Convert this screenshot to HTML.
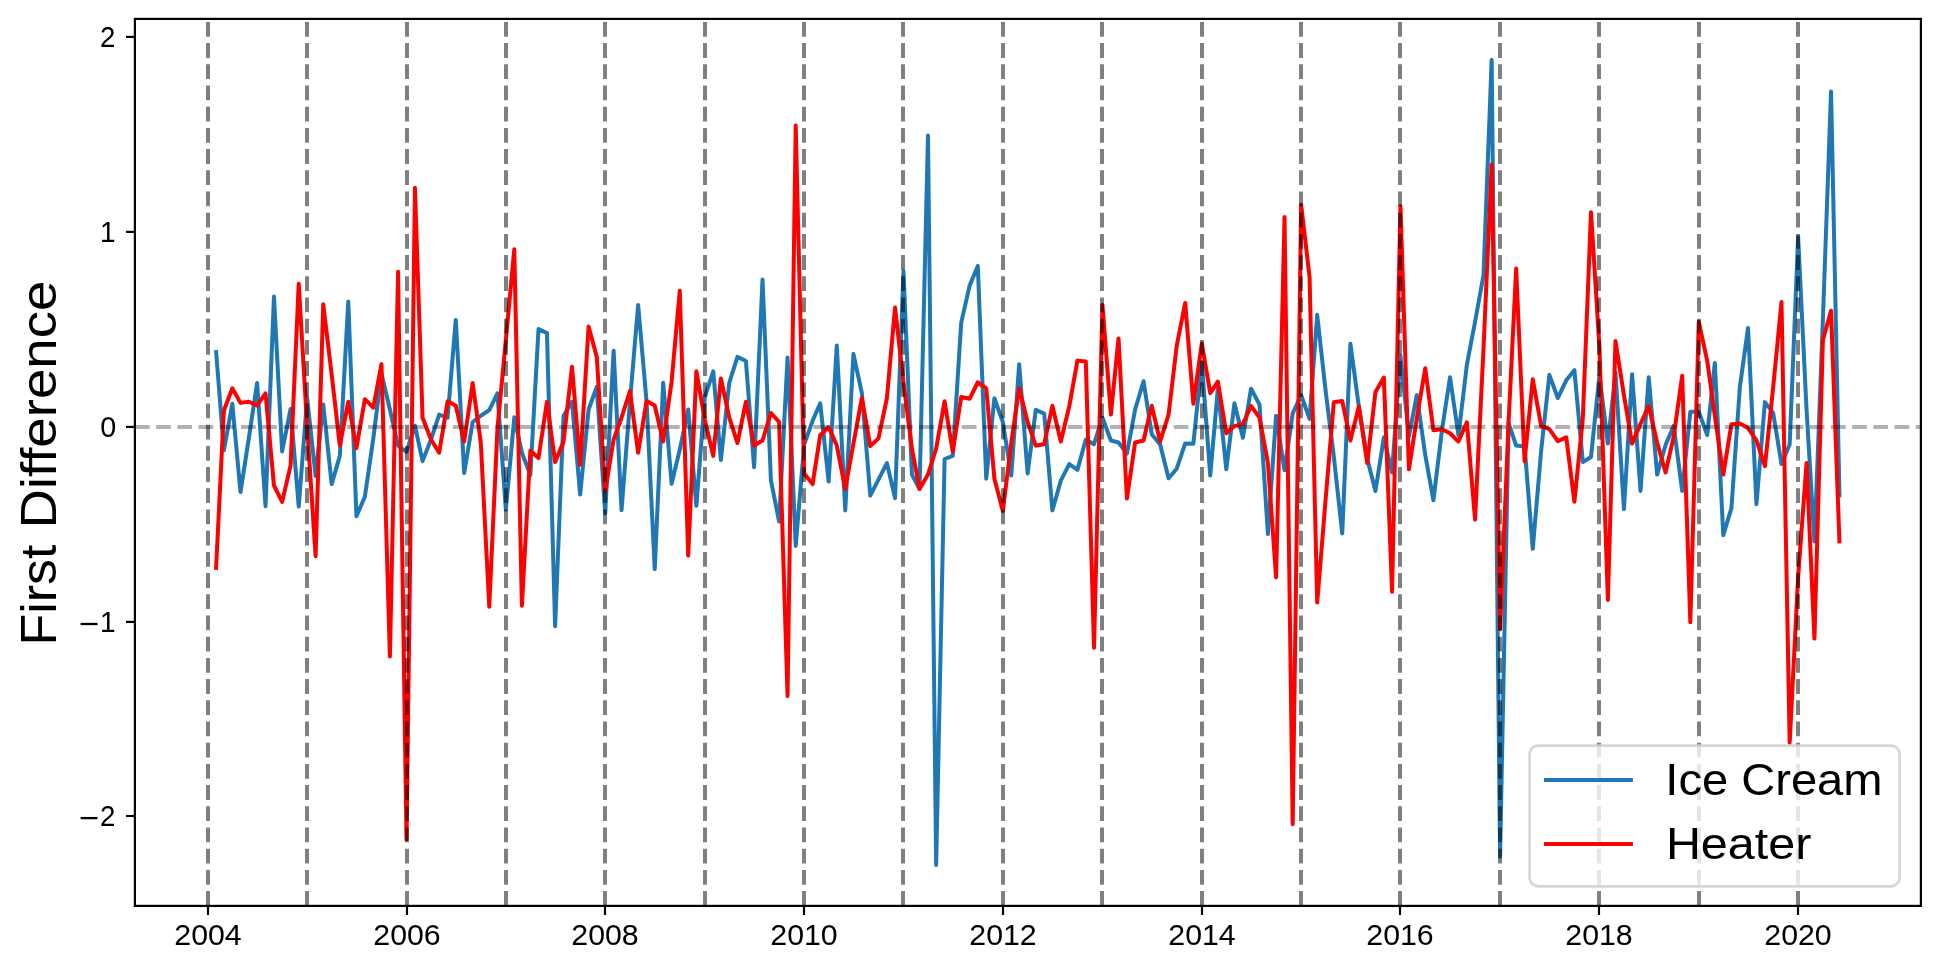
<!DOCTYPE html>
<html><head><meta charset="utf-8"><title>First Difference</title>
<style>html,body{margin:0;padding:0;background:#fff;}body{width:1939px;height:970px;position:relative;overflow:hidden;font-family:"Liberation Sans",sans-serif;}</style>
</head><body>
<svg width="1939" height="970" viewBox="0 0 1939 970" style="display:block;position:absolute;left:0;top:0;will-change:transform">
<rect x="0" y="0" width="1939" height="970" fill="#ffffff"/>
<defs><clipPath id="ax"><rect x="134.90" y="18.90" width="1786.00" height="887.00"/></clipPath></defs>
<g clip-path="url(#ax)">
<path d="M215.99,350.10 L223.89,450.43 L232.32,403.67 L240.49,492.11 L248.92,437.57 L257.09,383.03 L265.53,506.14 L273.96,296.53 L282.13,451.40 L290.57,408.93 L298.73,506.53 L307.17,398.22 L315.61,475.94 L323.23,404.45 L331.66,484.13 L339.83,455.88 L348.27,301.40 L356.43,516.27 L364.87,496.79 L373.31,438.35 L381.47,373.48 L389.91,409.52 L398.07,445.56 L406.51,451.79 L414.95,425.69 L422.57,461.14 L431.01,439.52 L439.17,414.58 L447.61,417.70 L455.77,319.91 L464.21,473.02 L472.65,421.99 L480.81,415.75 L489.25,410.10 L497.42,393.35 L505.85,509.65 L514.29,417.31 L521.91,452.76 L530.35,475.17 L538.51,329.07 L546.95,333.16 L555.12,626.14 L563.55,415.75 L571.99,401.73 L580.16,494.45 L588.59,409.52 L596.76,386.92 L605.20,513.35 L613.63,350.69 L621.53,510.23 L629.96,401.73 L638.13,304.91 L646.57,401.73 L654.73,569.06 L663.17,382.64 L671.60,483.74 L679.77,449.84 L688.21,409.52 L696.37,505.75 L704.81,397.05 L713.25,371.34 L720.87,459.97 L729.30,382.64 L737.47,356.92 L745.91,361.01 L754.07,467.18 L762.51,279.59 L770.95,480.62 L779.11,521.53 L787.55,357.51 L795.71,545.88 L804.15,444.58 L812.59,420.82 L820.21,403.28 L828.65,481.59 L836.81,345.62 L845.25,510.42 L853.41,353.81 L861.85,392.96 L870.29,495.62 L878.45,479.65 L886.89,463.09 L895.06,498.15 L903.49,271.21 L911.93,474.58 L919.55,489.00 L927.99,135.43 L936.15,864.96 L944.59,459.00 L952.76,455.88 L961.19,322.83 L969.63,285.63 L977.80,265.95 L986.23,478.67 L994.40,398.22 L1002.84,421.99 L1011.27,475.56 L1019.17,364.13 L1027.60,473.41 L1035.77,409.91 L1044.21,413.61 L1052.37,510.42 L1060.81,480.62 L1069.25,464.06 L1077.41,469.91 L1085.85,439.52 L1094.01,444.19 L1102.45,417.70 L1110.89,440.49 L1118.51,442.44 L1126.95,453.54 L1135.11,409.52 L1143.55,381.27 L1151.71,434.26 L1160.15,444.58 L1168.59,478.28 L1176.75,468.74 L1185.19,443.41 L1193.35,443.80 L1201.79,361.99 L1210.23,475.56 L1217.85,388.87 L1226.29,469.32 L1234.45,403.28 L1242.89,437.76 L1251.05,388.67 L1259.49,404.45 L1267.93,534.00 L1276.09,415.75 L1284.53,470.30 L1292.70,413.22 L1301.13,395.10 L1309.57,418.87 L1317.19,314.85 L1325.63,391.01 L1333.79,456.27 L1342.23,533.41 L1350.40,343.87 L1358.83,406.40 L1367.27,459.00 L1375.44,490.94 L1383.87,437.37 L1392.04,472.44 L1400.48,355.95 L1408.91,436.40 L1416.81,395.10 L1425.24,454.91 L1433.41,500.29 L1441.85,430.95 L1450.01,377.18 L1458.45,435.23 L1466.89,364.71 L1475.05,321.86 L1483.49,275.11 L1491.65,60.05 L1500.09,856.39 L1508.53,422.96 L1516.15,445.56 L1524.59,446.53 L1532.75,548.80 L1541.19,450.43 L1549.35,374.84 L1557.79,398.02 L1566.23,380.30 L1574.39,370.17 L1582.83,462.11 L1591.00,457.05 L1599.43,375.43 L1607.87,443.61 L1615.49,372.51 L1623.93,509.06 L1632.09,374.26 L1640.53,490.94 L1648.70,377.18 L1657.13,474.58 L1665.57,444.97 L1673.73,425.88 L1682.17,490.94 L1690.34,411.86 L1698.77,411.86 L1707.21,435.04 L1714.83,362.96 L1723.27,535.16 L1731.43,508.09 L1739.87,386.92 L1748.04,328.09 L1756.47,504.19 L1764.91,402.12 L1773.08,412.63 L1781.51,464.06 L1789.68,444.58 L1798.12,236.93 L1806.55,409.52 L1814.45,541.40 L1822.88,319.91 L1831.05,91.41 L1839.49,497.18" fill="none" stroke="#1f77b4" stroke-width="4" stroke-linejoin="round" stroke-linecap="butt"/>
<path d="M215.99,569.84 L223.89,410.49 L232.32,388.28 L240.49,402.89 L248.92,401.73 L257.09,405.43 L265.53,393.35 L273.96,485.49 L282.13,501.85 L290.57,465.62 L298.73,283.87 L307.17,427.05 L315.61,556.20 L323.23,304.13 L331.66,374.45 L339.83,445.56 L348.27,401.73 L356.43,448.28 L364.87,399.19 L373.31,407.57 L381.47,364.13 L389.91,656.52 L398.07,271.79 L406.51,839.44 L414.95,187.84 L422.57,417.70 L431.01,439.52 L439.17,452.76 L447.61,401.34 L455.77,405.82 L464.21,441.47 L472.65,383.03 L480.81,442.63 L489.25,606.66 L497.42,429.00 L505.85,339.97 L514.29,249.20 L521.91,605.68 L530.35,450.82 L538.51,458.02 L546.95,401.73 L555.12,462.11 L563.55,441.47 L571.99,366.66 L580.16,464.84 L588.59,326.53 L596.76,356.92 L605.20,491.33 L613.63,439.52 L621.53,417.70 L629.96,391.01 L638.13,452.76 L646.57,400.95 L654.73,405.43 L663.17,441.47 L671.60,381.66 L679.77,290.69 L688.21,555.62 L696.37,371.34 L704.81,419.84 L713.25,455.88 L720.87,378.54 L729.30,417.70 L737.47,443.02 L745.91,401.73 L754.07,445.56 L762.51,440.49 L770.95,413.02 L779.11,421.99 L787.55,696.07 L795.71,125.50 L804.15,473.41 L812.59,484.13 L820.21,435.23 L828.65,427.05 L836.81,445.56 L845.25,489.00 L853.41,443.61 L861.85,398.22 L870.29,446.14 L878.45,438.35 L886.89,398.22 L895.06,307.44 L903.49,382.64 L911.93,448.67 L919.55,489.00 L927.99,474.58 L936.15,448.67 L944.59,401.34 L952.76,451.79 L961.19,397.05 L969.63,398.80 L977.80,382.25 L986.23,388.28 L994.40,478.67 L1002.84,511.01 L1011.27,442.63 L1019.17,388.28 L1027.60,421.99 L1035.77,445.56 L1044.21,444.19 L1052.37,405.82 L1060.81,441.47 L1069.25,406.40 L1077.41,360.62 L1085.85,361.60 L1094.01,647.76 L1102.45,304.91 L1110.89,414.58 L1118.51,338.42 L1126.95,498.54 L1135.11,442.44 L1143.55,440.49 L1151.71,405.82 L1160.15,441.47 L1168.59,414.58 L1176.75,345.62 L1185.19,302.96 L1193.35,403.67 L1201.79,343.48 L1210.23,393.15 L1217.85,381.66 L1226.29,433.28 L1234.45,426.08 L1242.89,423.93 L1251.05,406.01 L1259.49,417.70 L1267.93,463.09 L1276.09,577.24 L1284.53,217.06 L1292.70,824.25 L1301.13,204.78 L1309.57,277.05 L1317.19,602.56 L1325.63,499.13 L1333.79,402.31 L1342.23,400.95 L1350.40,440.49 L1358.83,406.40 L1367.27,463.09 L1375.44,391.99 L1383.87,377.57 L1392.04,591.66 L1400.48,206.34 L1408.91,469.32 L1416.81,418.28 L1425.24,368.22 L1433.41,430.17 L1441.85,429.19 L1450.01,433.28 L1458.45,441.47 L1466.89,422.37 L1475.05,519.58 L1483.49,349.13 L1491.65,164.65 L1500.09,629.25 L1508.53,423.15 L1516.15,268.48 L1524.59,461.14 L1532.75,379.32 L1541.19,426.08 L1549.35,429.19 L1557.79,441.08 L1566.23,437.37 L1574.39,501.85 L1582.83,418.28 L1591.00,212.19 L1599.43,347.18 L1607.87,600.03 L1615.49,340.95 L1623.93,395.30 L1632.09,443.61 L1640.53,423.74 L1648.70,406.01 L1657.13,442.44 L1665.57,472.44 L1673.73,436.40 L1682.17,375.82 L1690.34,622.24 L1698.77,321.86 L1707.21,360.82 L1714.83,415.75 L1723.27,474.58 L1731.43,424.13 L1739.87,423.54 L1748.04,428.02 L1756.47,440.49 L1764.91,466.20 L1773.08,388.09 L1781.51,301.99 L1789.68,742.63 L1798.12,577.05 L1806.55,463.09 L1814.45,638.60 L1822.88,339.97 L1831.05,310.75 L1839.49,543.35" fill="none" stroke="#ff0000" stroke-width="4" stroke-linejoin="round" stroke-linecap="butt"/>
<line x1="208.00" y1="905.9" x2="208.00" y2="18.9" stroke="#000" stroke-opacity="0.5" stroke-width="4" stroke-dasharray="14.8 6.4"/>
<line x1="307.00" y1="905.9" x2="307.00" y2="18.9" stroke="#000" stroke-opacity="0.5" stroke-width="4" stroke-dasharray="14.8 6.4"/>
<line x1="407.00" y1="905.9" x2="407.00" y2="18.9" stroke="#000" stroke-opacity="0.5" stroke-width="4" stroke-dasharray="14.8 6.4"/>
<line x1="506.00" y1="905.9" x2="506.00" y2="18.9" stroke="#000" stroke-opacity="0.5" stroke-width="4" stroke-dasharray="14.8 6.4"/>
<line x1="605.00" y1="905.9" x2="605.00" y2="18.9" stroke="#000" stroke-opacity="0.5" stroke-width="4" stroke-dasharray="14.8 6.4"/>
<line x1="705.00" y1="905.9" x2="705.00" y2="18.9" stroke="#000" stroke-opacity="0.5" stroke-width="4" stroke-dasharray="14.8 6.4"/>
<line x1="804.00" y1="905.9" x2="804.00" y2="18.9" stroke="#000" stroke-opacity="0.5" stroke-width="4" stroke-dasharray="14.8 6.4"/>
<line x1="903.00" y1="905.9" x2="903.00" y2="18.9" stroke="#000" stroke-opacity="0.5" stroke-width="4" stroke-dasharray="14.8 6.4"/>
<line x1="1003.00" y1="905.9" x2="1003.00" y2="18.9" stroke="#000" stroke-opacity="0.5" stroke-width="4" stroke-dasharray="14.8 6.4"/>
<line x1="1102.00" y1="905.9" x2="1102.00" y2="18.9" stroke="#000" stroke-opacity="0.5" stroke-width="4" stroke-dasharray="14.8 6.4"/>
<line x1="1202.00" y1="905.9" x2="1202.00" y2="18.9" stroke="#000" stroke-opacity="0.5" stroke-width="4" stroke-dasharray="14.8 6.4"/>
<line x1="1301.00" y1="905.9" x2="1301.00" y2="18.9" stroke="#000" stroke-opacity="0.5" stroke-width="4" stroke-dasharray="14.8 6.4"/>
<line x1="1400.00" y1="905.9" x2="1400.00" y2="18.9" stroke="#000" stroke-opacity="0.5" stroke-width="4" stroke-dasharray="14.8 6.4"/>
<line x1="1500.00" y1="905.9" x2="1500.00" y2="18.9" stroke="#000" stroke-opacity="0.5" stroke-width="4" stroke-dasharray="14.8 6.4"/>
<line x1="1599.00" y1="905.9" x2="1599.00" y2="18.9" stroke="#000" stroke-opacity="0.5" stroke-width="4" stroke-dasharray="14.8 6.4"/>
<line x1="1699.00" y1="905.9" x2="1699.00" y2="18.9" stroke="#000" stroke-opacity="0.5" stroke-width="4" stroke-dasharray="14.8 6.4"/>
<line x1="1798.00" y1="905.9" x2="1798.00" y2="18.9" stroke="#000" stroke-opacity="0.5" stroke-width="4" stroke-dasharray="14.8 6.4"/>
<line x1="134.9" y1="426.9" x2="1920.9" y2="426.9" stroke="#000" stroke-opacity="0.3" stroke-width="4" stroke-dasharray="14.8 6.4"/>
</g>
<rect x="134.9" y="18.9" width="1786.00" height="887.00" fill="none" stroke="#000" stroke-width="2.2"/>
<line x1="208.00" y1="905.9" x2="208.00" y2="914.95" stroke="#000" stroke-width="2.15"/>
<line x1="407.00" y1="905.9" x2="407.00" y2="914.95" stroke="#000" stroke-width="2.15"/>
<line x1="605.00" y1="905.9" x2="605.00" y2="914.95" stroke="#000" stroke-width="2.15"/>
<line x1="804.00" y1="905.9" x2="804.00" y2="914.95" stroke="#000" stroke-width="2.15"/>
<line x1="1003.00" y1="905.9" x2="1003.00" y2="914.95" stroke="#000" stroke-width="2.15"/>
<line x1="1202.00" y1="905.9" x2="1202.00" y2="914.95" stroke="#000" stroke-width="2.15"/>
<line x1="1400.00" y1="905.9" x2="1400.00" y2="914.95" stroke="#000" stroke-width="2.15"/>
<line x1="1599.00" y1="905.9" x2="1599.00" y2="914.95" stroke="#000" stroke-width="2.15"/>
<line x1="1798.00" y1="905.9" x2="1798.00" y2="914.95" stroke="#000" stroke-width="2.15"/>
<line x1="134.9" y1="36.9" x2="126.00" y2="36.9" stroke="#000" stroke-width="2.15"/>
<line x1="134.9" y1="231.9" x2="126.00" y2="231.9" stroke="#000" stroke-width="2.15"/>
<line x1="134.9" y1="426.9" x2="126.00" y2="426.9" stroke="#000" stroke-width="2.15"/>
<line x1="134.9" y1="621.9" x2="126.00" y2="621.9" stroke="#000" stroke-width="2.15"/>
<line x1="134.9" y1="816.0" x2="126.00" y2="816.0" stroke="#000" stroke-width="2.15"/>
<text x="208.00" y="944.9" font-size="29.2" font-family="Liberation Sans, sans-serif" text-anchor="middle" textLength="67.4" lengthAdjust="spacingAndGlyphs" fill="#000">2004</text>
<text x="407.00" y="944.9" font-size="29.2" font-family="Liberation Sans, sans-serif" text-anchor="middle" textLength="67.4" lengthAdjust="spacingAndGlyphs" fill="#000">2006</text>
<text x="605.00" y="944.9" font-size="29.2" font-family="Liberation Sans, sans-serif" text-anchor="middle" textLength="67.4" lengthAdjust="spacingAndGlyphs" fill="#000">2008</text>
<text x="804.00" y="944.9" font-size="29.2" font-family="Liberation Sans, sans-serif" text-anchor="middle" textLength="67.4" lengthAdjust="spacingAndGlyphs" fill="#000">2010</text>
<text x="1003.00" y="944.9" font-size="29.2" font-family="Liberation Sans, sans-serif" text-anchor="middle" textLength="67.4" lengthAdjust="spacingAndGlyphs" fill="#000">2012</text>
<text x="1202.00" y="944.9" font-size="29.2" font-family="Liberation Sans, sans-serif" text-anchor="middle" textLength="67.4" lengthAdjust="spacingAndGlyphs" fill="#000">2014</text>
<text x="1400.00" y="944.9" font-size="29.2" font-family="Liberation Sans, sans-serif" text-anchor="middle" textLength="67.4" lengthAdjust="spacingAndGlyphs" fill="#000">2016</text>
<text x="1599.00" y="944.9" font-size="29.2" font-family="Liberation Sans, sans-serif" text-anchor="middle" textLength="67.4" lengthAdjust="spacingAndGlyphs" fill="#000">2018</text>
<text x="1798.00" y="944.9" font-size="29.2" font-family="Liberation Sans, sans-serif" text-anchor="middle" textLength="67.4" lengthAdjust="spacingAndGlyphs" fill="#000">2020</text>
<text x="115.3" y="46.90" font-size="29.2" font-family="Liberation Sans, sans-serif" text-anchor="end" textLength="15.4" lengthAdjust="spacingAndGlyphs" fill="#000">2</text>
<text x="115.7" y="241.90" font-size="29.2" font-family="Liberation Sans, sans-serif" text-anchor="end" textLength="15.6" lengthAdjust="spacingAndGlyphs" fill="#000">1</text>
<text x="116.3" y="436.90" font-size="29.2" font-family="Liberation Sans, sans-serif" text-anchor="end" textLength="16.0" lengthAdjust="spacingAndGlyphs" fill="#000">0</text>
<text x="115.7" y="631.90" font-size="29.2" font-family="Liberation Sans, sans-serif" text-anchor="end" textLength="15.6" lengthAdjust="spacingAndGlyphs" fill="#000">1</text>
<rect x="80.6" y="622.85" width="16.9" height="2.3" fill="#000"/>
<text x="115.3" y="826.00" font-size="29.2" font-family="Liberation Sans, sans-serif" text-anchor="end" textLength="15.4" lengthAdjust="spacingAndGlyphs" fill="#000">2</text>
<rect x="80.6" y="816.95" width="16.9" height="2.3" fill="#000"/>
<text transform="translate(56.1,645.6) rotate(-90)" font-size="49.5" font-family="Liberation Sans, sans-serif" textLength="101.0" lengthAdjust="spacingAndGlyphs" fill="#000">First</text>
<text transform="translate(56.1,528.6) rotate(-90)" font-size="49.5" font-family="Liberation Sans, sans-serif" textLength="248.0" lengthAdjust="spacingAndGlyphs" fill="#000">Difference</text>
<rect x="1529.6" y="745.6" width="370.00" height="140.70" rx="8.5" ry="8.5" fill="#fff" fill-opacity="0.8" stroke="#ccc" stroke-opacity="0.8" stroke-width="2.67"/>
<line x1="1544.0" y1="780.0" x2="1632.9" y2="780.0" stroke="#1f77b4" stroke-width="4"/>
<line x1="1544.0" y1="844.0" x2="1632.9" y2="844.0" stroke="#ff0000" stroke-width="4"/>
<text x="1665.3" y="794.9" font-size="43.5" font-family="Liberation Sans, sans-serif" textLength="217.2" lengthAdjust="spacingAndGlyphs" fill="#000">Ice Cream</text>
<text x="1665.9" y="859.2" font-size="43.5" font-family="Liberation Sans, sans-serif" textLength="145.4" lengthAdjust="spacingAndGlyphs" fill="#000">Heater</text>
</svg>
</body></html>
